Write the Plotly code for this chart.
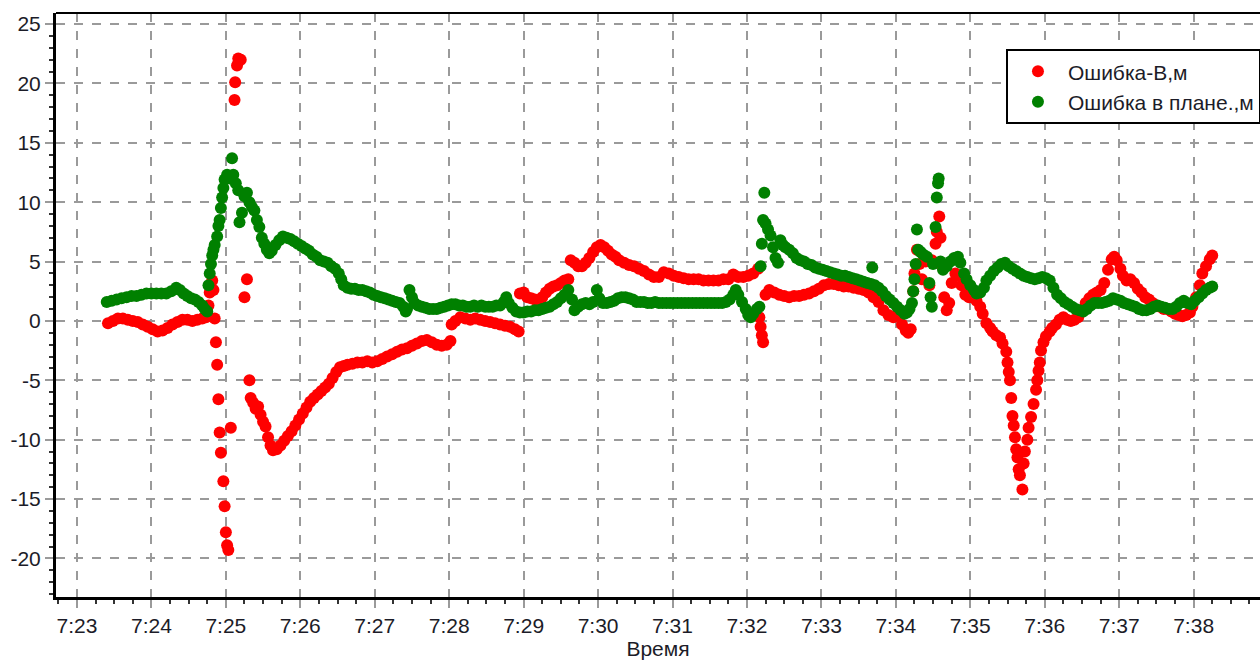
import pandas as pd
import plotly.graph_objects as go

# ---- data: seconds after 7:23:00 and error values ----
red_t = [25, 29, 33, 37, 41, 45, 49, 53, 57, 61, 65, 69, 73, 77, 81, 85, 89, 93, 97, 101, 104,
         106, 107, 109, 110, 111, 112, 113, 114, 115, 116, 118, 119, 120, 121, 122, 124,
         127, 127.5, 129, 130, 132, 135, 137, 139, 140, 142, 144, 146, 148, 150, 152, 154, 156, 158,
         161, 164, 167, 170, 173, 176, 179, 182, 185, 188, 191, 194, 197, 200, 203, 206, 209, 212,
         215, 218, 222, 226, 230, 234, 238, 242, 246, 250, 254, 258, 262, 266, 270, 274, 278, 282,
         286, 290, 294, 298, 301, 302, 305, 309, 313, 317, 321, 325, 329, 333, 337, 341, 345, 349,
         353, 356, 357, 360, 363, 366, 369, 372, 375, 378, 381, 384, 387, 390, 393, 396, 398, 401,
         404, 407, 410, 413, 416, 419, 422, 425, 428, 431, 434, 437, 441, 445, 449, 453, 457, 461,
         465, 469, 473, 477, 481, 485, 489, 493, 497, 501, 505, 509, 513, 517, 521, 525, 529, 533,
         537, 541, 545, 549, 550, 551, 552, 553, 555, 558, 562, 566, 570, 574, 578, 582, 586, 590,
         594, 598, 602, 606, 610, 614, 618, 622, 626, 630, 634, 638, 642, 646, 650, 654, 658, 661,
         665, 668, 670, 672, 674, 675, 677, 679, 681, 684, 687, 689, 692, 693, 695, 696, 698, 699,
         701, 703, 705, 708, 711, 713, 716, 719, 722, 725, 728, 730, 733, 736, 738, 741, 744, 746,
         749, 750, 751, 752, 753, 754, 755, 756, 757, 758, 759, 760, 762, 763, 764, 766, 767, 769,
         771, 773, 774, 775, 776, 777, 779, 781, 784, 786, 789, 792, 795, 798, 801, 804, 807, 810,
         813, 816, 819, 822, 825, 828, 831, 834, 836, 838, 841, 843, 846, 849, 852, 855, 858, 861,
         864, 867, 870, 873, 876, 879, 882, 885, 888, 891, 894, 897, 899, 902, 905, 907, 910, 913, 915]
red_v = [-0.2, 0.0, 0.2, 0.2, 0.1, 0.0, -0.1, -0.3, -0.5, -0.7, -0.9, -0.8, -0.6, -0.3, -0.1, 0.1, 0.1, 0.0, 0.1, 0.2, 0.3,
         1.3, 2.4, 3.4, 2.6, 0.2, -1.8, -3.7, -6.6, -9.4, -11.1, -13.5, -15.6, -17.8, -18.9, -19.3, -9.0,
         18.6, 20.1, 21.5, 22.1, 22.0, 2.0, 3.5, -5.0, -6.5, -6.9, -7.4, -7.2, -7.9, -8.5, -8.9, -9.8, -10.5, -10.9,
         -10.8, -10.5, -10.1, -9.7, -9.3, -8.8, -8.3, -7.8, -7.3, -6.8, -6.5, -6.2, -5.9, -5.6, -5.3, -4.8, -4.3, -3.9,
         -3.8, -3.7, -3.6, -3.5, -3.5, -3.4, -3.5, -3.4, -3.2, -3.0, -2.8, -2.6, -2.4, -2.3, -2.1, -1.9, -1.7, -1.6,
         -1.8, -2.0, -2.1, -2.0, -1.7, -0.3, 0.0, 0.3, 0.2, 0.1, 0.2, 0.1, 0.0, -0.1, -0.2, -0.3, -0.4, -0.5,
         -0.7, -0.9, 2.3, 2.4, 2.0, 1.9, 1.8, 1.7, 2.0, 2.4, 2.7, 2.9, 3.0, 3.2, 3.4, 3.5, 5.1, 4.9,
         4.6, 4.6, 4.9, 5.3, 5.8, 6.2, 6.4, 6.2, 5.9, 5.6, 5.4, 5.1, 4.9, 4.7, 4.6, 4.4, 4.2, 3.9,
         3.7, 3.7, 4.1, 4.0, 3.8, 3.7, 3.6, 3.5, 3.5, 3.5, 3.4, 3.4, 3.4, 3.4, 3.5, 3.5, 3.9, 3.7,
         3.7, 3.8, 4.0, 4.4, 0.3, -0.5, -1.2, -1.8, 2.2, 2.6, 2.4, 2.2, 2.1, 2.0, 2.1, 2.1, 2.2, 2.3,
         2.5, 2.7, 3.0, 3.1, 3.1, 3.0, 2.9, 2.9, 2.8, 2.7, 2.6, 2.4, 2.0, 1.6, 0.9, 0.5, 0.3, 0.5,
         -0.3, -0.8, -1.0, -0.7, 2.5, 4.0, 6.0, 4.8, 3.5, 5.0, 3.0, 5.1, 6.5, 7.5, 8.8, 7.0, 4.5, 2.0,
         0.9, 1.5, 3.2, 4.0, 3.8, 3.0, 2.2, 2.0, 2.0, 1.7, 1.2, 0.6, -0.2, -0.6, -0.9, -1.2, -1.4, -1.9,
         -2.6, -3.5, -4.3, -5.0, -6.5, -8.0, -8.8, -9.8, -10.8, -11.5, -12.5, -13.0, -14.2, -12.0, -11.0, -10.0, -9.0, -8.1,
         -7.0, -5.8, -5.0, -4.2, -3.5, -2.5, -1.8, -1.3, -0.9, -0.6, -0.3, 0.1, 0.3, 0.1, 0.0, 0.1, 0.3, 0.8,
         1.5, 1.9, 2.2, 2.4, 2.6, 3.2, 4.3, 5.2, 5.4, 5.1, 4.4, 3.8, 3.4, 3.5, 3.2, 2.7, 2.4, 2.0,
         1.8, 1.5, 1.3, 1.2, 1.0, 1.0, 0.8, 0.6, 0.5, 0.4, 0.5, 0.7, 1.2, 2.0, 3.0, 4.0, 4.6, 5.2, 5.5]

green_t = [24, 28, 32, 36, 40, 44, 48, 52, 56, 60, 64, 68, 72, 76, 80, 83, 86, 89, 92, 95, 98, 101, 103, 105,
           106, 107, 108, 109, 110, 111, 113, 114, 115, 116, 117, 118, 119, 121, 123, 125, 126, 128, 130,
           131, 133, 135, 137, 139, 141, 143, 145, 147, 149, 151, 153, 155, 157, 160, 163, 166, 169, 172,
           175, 178, 181, 184, 187, 190, 193, 196, 199, 202, 205, 208, 211, 213, 215, 218, 221, 224, 227,
           230, 233, 236, 239, 242, 245, 248, 251, 254, 257, 260, 263, 265, 266, 268, 270, 272, 275, 278,
           281, 284, 287, 290, 293, 296, 299, 302, 305, 308, 311, 314, 317, 320, 323, 326, 329, 332, 335,
           338, 341, 344, 346, 348, 351, 354, 357, 360, 363, 366, 369, 372, 375, 378, 381, 384, 387, 390,
           393, 396, 399, 401, 404, 407, 410, 413, 416, 419, 421, 424, 427, 430, 433, 436, 439, 442, 445,
           448, 451, 454, 457, 460, 463, 466, 469, 472, 475, 478, 481, 484, 487, 490, 493, 496, 499, 502,
           505, 508, 511, 514, 517, 520, 523, 526, 529, 531, 533, 536, 539, 541, 543, 545, 548, 550, 551,
           552, 553, 554, 555, 557, 559, 561, 563, 565, 567, 569, 571, 574, 577, 580, 583, 586, 589, 592,
           595, 598, 601, 604, 607, 610, 613, 616, 619, 622, 625, 628, 631, 634, 637, 640, 641, 643, 646,
           649, 652, 655, 658, 661, 664, 667, 669, 671, 673, 674, 675, 676, 677, 678, 680, 682, 685, 687,
           688, 689, 690, 692, 693, 694, 694.5, 696, 698, 701, 704, 707, 710, 712, 715, 717, 720, 723, 725,
           728, 731, 733, 736, 739, 742, 745, 748, 751, 754, 757, 760, 763, 766, 769, 772, 775, 778, 781,
           784, 787, 790, 793, 796, 799, 802, 805, 808, 811, 814, 817, 820, 823, 826, 829, 832, 835, 838,
           841, 844, 847, 850, 853, 856, 859, 862, 865, 868, 871, 874, 877, 880, 883, 886, 889, 892, 895,
           898, 901, 904, 907, 910, 913, 915]
green_v = [1.6, 1.7, 1.8, 1.9, 2.0, 2.1, 2.1, 2.2, 2.3, 2.3, 2.3, 2.3, 2.3, 2.5, 2.8, 2.6, 2.3, 2.1, 1.9, 1.8, 1.6, 1.3, 1.0, 0.8,
           3.0, 4.0, 4.8, 5.5, 6.0, 6.4, 7.1, 8.0, 8.5, 9.5, 10.4, 11.2, 11.9, 12.3, 12.0, 13.7, 12.3, 11.6, 11.0,
           8.3, 9.1, 10.5, 10.8, 10.0, 9.6, 9.3, 8.5, 7.9, 7.0, 6.5, 6.0, 5.7, 5.9, 6.4, 6.8, 7.1, 7.0, 6.9,
           6.7, 6.5, 6.3, 6.1, 5.9, 5.6, 5.4, 5.1, 5.0, 4.9, 4.6, 4.4, 4.0, 3.5, 3.0, 2.8, 2.7, 2.7, 2.6,
           2.6, 2.5, 2.4, 2.2, 2.1, 2.0, 1.9, 1.8, 1.7, 1.6, 1.5, 1.2, 0.8, 1.0, 2.6, 2.0, 1.5, 1.3, 1.2,
           1.1, 1.0, 1.0, 1.0, 1.1, 1.2, 1.3, 1.4, 1.4, 1.3, 1.3, 1.2, 1.2, 1.3, 1.2, 1.3, 1.2, 1.2, 1.2,
           1.3, 1.3, 1.6, 2.0, 1.5, 1.1, 0.8, 0.7, 0.7, 0.8, 0.8, 0.9, 0.9, 1.0, 1.1, 1.2, 1.4, 1.6, 1.9,
           2.2, 2.6, 1.8, 0.9, 1.2, 1.4, 1.5, 1.4, 1.6, 2.6, 1.9, 1.5, 1.5, 1.6, 1.7, 1.9, 2.0, 2.0, 1.9,
           1.8, 1.6, 1.6, 1.6, 1.5, 1.5, 1.6, 1.5, 1.5, 1.5, 1.5, 1.5, 1.5, 1.5, 1.5, 1.5, 1.5, 1.5, 1.5,
           1.5, 1.5, 1.5, 1.5, 1.5, 1.5, 1.6, 1.8, 2.2, 2.6, 2.2, 1.6, 1.0, 0.5, 0.3, 0.6, 1.0, 1.2, 4.6,
           6.5, 8.5, 10.8, 8.2, 7.7, 7.2, 6.2, 5.3, 4.9, 6.8, 6.4, 6.2, 6.0, 5.7, 5.3, 5.1, 5.0, 4.8, 4.7,
           4.5, 4.4, 4.3, 4.2, 4.1, 4.0, 3.9, 3.8, 3.8, 3.7, 3.6, 3.5, 3.4, 3.3, 3.2, 3.1, 4.5, 3.0, 2.8,
           2.5, 2.1, 1.8, 1.5, 1.2, 0.9, 0.6, 0.7, 1.0, 1.5, 2.5, 3.5, 4.8, 7.7, 6.0, 5.8, 5.6, 5.4, 3.2,
           2.0, 1.2, 4.8, 7.9, 10.4, 11.6, 12.0, 5.0, 4.3, 4.6, 5.0, 5.3, 5.4, 4.9, 4.0, 3.5, 3.0, 2.6, 2.3,
           2.4, 2.8, 3.4, 3.8, 4.2, 4.5, 4.8, 4.9, 4.6, 4.4, 4.2, 4.0, 3.8, 3.7, 3.6, 3.5, 3.6, 3.7, 3.6,
           3.4, 2.8, 2.2, 1.9, 1.6, 1.4, 1.2, 1.0, 0.9, 0.8, 1.0, 1.3, 1.5, 1.5, 1.5, 1.6, 1.7, 1.9, 1.8,
           1.7, 1.5, 1.4, 1.3, 1.2, 1.0, 0.9, 0.9, 1.0, 1.2, 1.3, 1.2, 1.1, 1.0, 1.0, 1.2, 1.5, 1.7, 1.5,
           1.4, 1.7, 2.0, 2.3, 2.6, 2.8, 2.9]

x_tick_labels = ["7:23", "7:24", "7:25", "7:26", "7:27", "7:28", "7:29", "7:30",
                 "7:31", "7:32", "7:33", "7:34", "7:35", "7:36", "7:37", "7:38"]
y_tick_values = [-20, -15, -10, -5, 0, 5, 10, 15, 20, 25]
y_tick_labels = ["-20", "-15", "-10", "-5", "0", "5", "10", "15", "20", "25"]

base = pd.Timestamp("2020-01-01 07:23:00")
def to_time(secs):
    return [base + pd.Timedelta(seconds=s) for s in secs]

x_tick_vals = [base + pd.Timedelta(minutes=i) for i in range(len(x_tick_labels))]

FONT = "Liberation Sans, Arial, sans-serif"
TXT = "#1c1c28"
FS = 21

fig = go.Figure()
fig.add_trace(go.Scatter(
    x=to_time(red_t), y=red_v, mode="markers", name="Ошибка-В,м",
    marker=dict(color="#ff0000", size=12, symbol="circle", line=dict(width=0)),
))
fig.add_trace(go.Scatter(
    x=to_time(green_t), y=green_v, mode="markers", name="Ошибка в плане.,м",
    marker=dict(color="#008000", size=12, symbol="circle", line=dict(width=0)),
))

grid = dict(showgrid=True, gridcolor="#9a9a9a", gridwidth=1.5, griddash="dash")

fig.update_layout(
    width=1260, height=662,
    margin=dict(l=56, r=0, t=13, b=65, autoexpand=False),
    paper_bgcolor="white", plot_bgcolor="white",
    font=dict(family=FONT, size=FS, color=TXT),
    showlegend=True,
    legend=dict(
        x=0.789, y=0.938, xanchor="left", yanchor="top",
        bgcolor="white", bordercolor="black", borderwidth=2,
        font=dict(family=FONT, size=FS, color=TXT),
        itemsizing="constant", itemwidth=50,
    ),
    xaxis=dict(
        type="date", automargin=False,
        range=[base + pd.Timedelta(seconds=-16.9), base + pd.Timedelta(seconds=953.5)],
        tickvals=x_tick_vals, ticktext=x_tick_labels,
        ticks="outside", ticklen=8, tickwidth=1.5, tickcolor="#9a9a9a",
        minor=dict(dtick=15000, tick0=base, ticks="outside", ticklen=4, tickcolor="#333", showgrid=False),
        showline=True, linecolor="black", linewidth=3,
        zeroline=False,
        tickfont=dict(family=FONT, size=FS, color=TXT),
        title=dict(text="Время", font=dict(family=FONT, size=FS, color=TXT), standoff=6),
        **grid,
    ),
    yaxis=dict(
        automargin=False,
        range=[-23.25, 25.93],
        tickvals=y_tick_values, ticktext=y_tick_labels,
        ticks="outside", ticklen=8, tickwidth=1.5, tickcolor="#9a9a9a",
        minor=dict(dtick=1, tick0=0, ticks="outside", ticklen=4, tickcolor="#333", showgrid=False),
        showline=True, linecolor="black", linewidth=3,
        zeroline=False,
        tickfont=dict(family=FONT, size=FS, color=TXT),
        **grid,
    ),
    shapes=[dict(type="line", xref="paper", yref="paper", x0=0, x1=1, y0=1, y1=1,
                 line=dict(color="black", width=2))],
)

# remove the page's default body margin so the figure fills the window exactly
fig.write_html("out.html",
               config={"displayModeBar": False},
               post_script="document.body.style.margin='0';document.body.style.overflow='hidden';")
